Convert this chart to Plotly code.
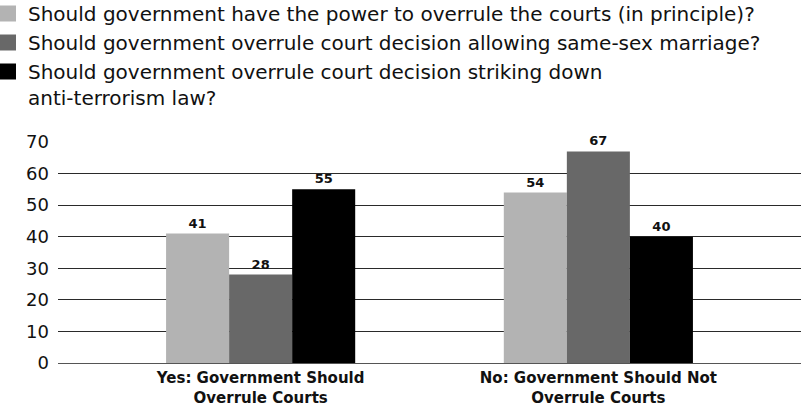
import plotly.graph_objects as go

categories = ["Yes: Government Should<br>Overrule Courts", "No: Government Should Not<br>Overrule Courts"]
series_names = [
    "Should government have the power to overrule the courts (in principle)?",
    "Should government overrule court decision allowing same-sex marriage?",
    "Should government overrule court decision striking down<br>anti-terrorism law?",
]
principle = [41, 54]
same_sex = [28, 67]
anti_terror = [55, 40]
colors = ["#b3b3b3", "#686868", "#000000"]

W, H = 801, 416
ML, MR, MT, MB = 58, 0, 142, 53
PW, PH = W - ML - MR, H - MT - MB

x_pos = [0, 1]
fig = go.Figure()
for i, (name, vals, col) in enumerate(zip(series_names, [principle, same_sex, anti_terror], colors)):
    fig.add_trace(go.Bar(
        x=x_pos, y=vals, name=name, marker_color=col, marker_line_width=0,
        text=vals, textposition="outside", cliponaxis=False,
        textfont=dict(family="DejaVu Sans", size=13, color="#111"),
        texttemplate="<b>%{text}</b>", showlegend=False, legendgroup=f"s{i}",
    ))
# legend entries with larger square swatches
for i, (name, col) in enumerate(zip(series_names, colors)):
    fig.add_trace(go.Scatter(
        x=[None], y=[None], mode="markers", name=name, legendgroup=f"s{i}",
        marker=dict(symbol="square", size=16, color=col, line=dict(width=0)),
    ))

fig.update_layout(
    width=W, height=H,
    margin=dict(l=ML, r=MR, t=MT, b=MB, autoexpand=False),
    paper_bgcolor="white", plot_bgcolor="white",
    barmode="group", bargap=0.44, bargroupgap=0,
    font=dict(family="DejaVu Sans", color="#111"),
    showlegend=True,
    legend=dict(
        x=(-12 - ML) / PW, y=1 + (MT + 6) / PH, xanchor="left", yanchor="top",
        font=dict(family="DejaVu Sans", size=20, color="#111"),
        tracegroupgap=0, itemwidth=30, bgcolor="rgba(0,0,0,0)", valign="top",
        itemsizing="trace",
    ),
    xaxis=dict(
        range=[-0.6, 1.6], tickvals=x_pos,
        ticktext=["<b>" + c + "</b>" for c in categories],
        tickfont=dict(family="DejaVu Sans", size=15, color="#111"),
        showgrid=False, zeroline=False, showline=False, ticks="",
        ticklabelstandoff=4,
    ),
    yaxis=dict(
        range=[0, 70], dtick=10, showgrid=True, gridcolor="#2a2a2a", gridwidth=1,
        zeroline=True, zerolinecolor="#555", zerolinewidth=1,
        tickfont=dict(family="DejaVu Sans", size=18, color="#111"),
        ticks="", ticklabelstandoff=8,
    ),
)
fig.write_html("out.html")
